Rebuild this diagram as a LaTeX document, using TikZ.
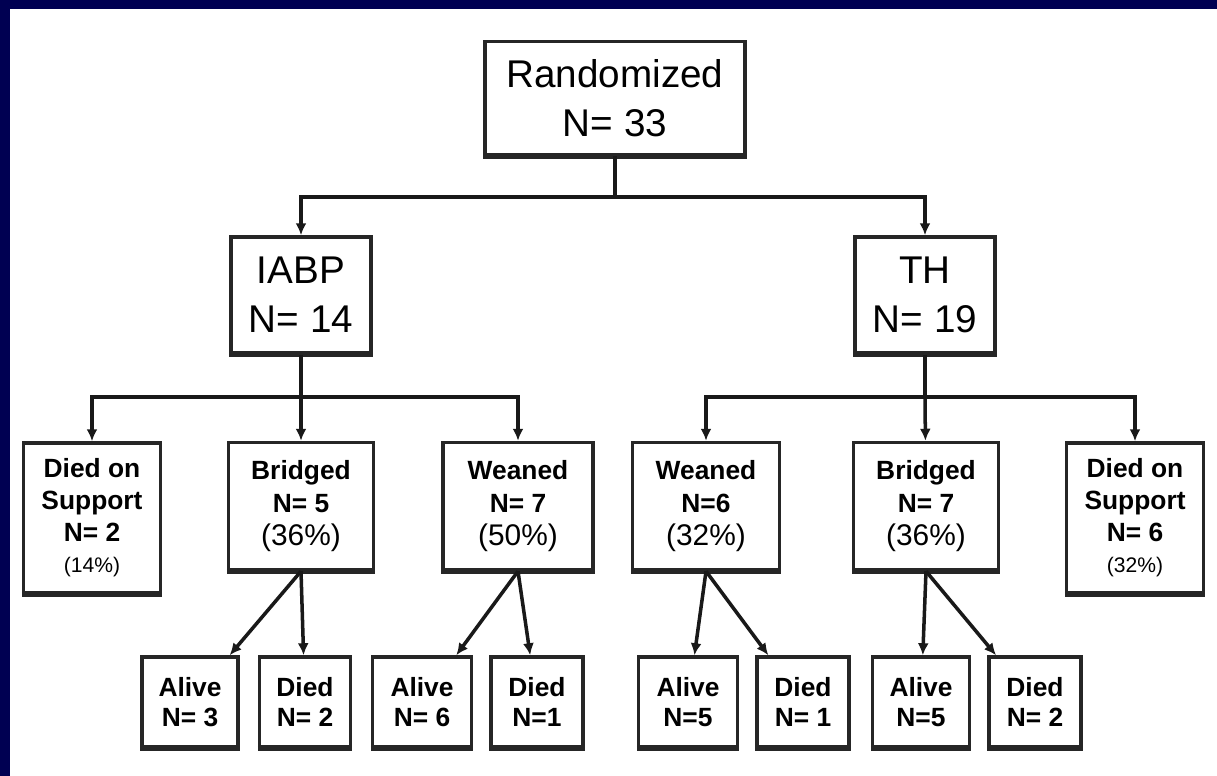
\documentclass[tikz,border=0pt]{standalone}
\usepackage{fontspec}
\setmainfont{Liberation Sans}
\usetikzlibrary{arrows.meta}
\definecolor{navyframe}{RGB}{0,0,82}
\tikzset{
  box/.style={draw=black!85, line width=2pt, fill=white, align=center, inner sep=0pt},
  topbox/.style={box, font=\fontsize{22}{28}\selectfont},
  armbox/.style={box, minimum width=2.9cm, minimum height=2.54cm, font=\fontsize{15}{19}\selectfont\bfseries},
  dosbox/.style={box, minimum width=2.74cm, minimum height=3cm, font=\fontsize{15}{18}\selectfont\bfseries},
  leafbox/.style={box, minimum height=1.8cm, font=\fontsize{15}{17}\selectfont\bfseries},
  conn/.style={line width=2pt, draw=black!90},
  arr/.style={conn, -{Latex[length=2.4mm,width=2.2mm]}},
}
\newcommand{\pct}[1]{{\fontsize{17}{20}\selectfont\mdseries (#1\%)}}
\newcommand{\smallpct}[1]{{\fontsize{12}{14}\selectfont\mdseries (#1\%)}}
\begin{document}
\begin{tikzpicture}[x=0.02cm, y=-0.02cm]
  \useasboundingbox (0,0) rectangle (1217,776);
  %% dark frame on top and left side
  \fill[navyframe] (0,0) rectangle (1217,9);
  \fill[navyframe] (0,0) rectangle (10,776);

  %% top level
  \node[topbox, minimum width=5.2cm, minimum height=2.26cm] (rand) at (615,98) {Randomized\\N= 33};
  \node[topbox, minimum width=2.8cm, minimum height=2.32cm] (iabp) at (301,295) {IABP\\N= 14};
  \node[topbox, minimum width=2.8cm, minimum height=2.32cm] (th) at (925,295) {TH\\N= 19};

  %% outcome per arm
  \node[dosbox] (dosL) at (92,518) {Died on\\Support\\N= 2\\\smallpct{14}};
  \node[armbox] (brL) at (301,506) {Bridged\\N= 5\\\pct{36}};
  \node[armbox, minimum width=3cm] (weL) at (518,506) {Weaned\\N= 7\\\pct{50}};
  \node[armbox, minimum width=2.94cm] (weR) at (706,506) {Weaned\\N=6\\\pct{32}};
  \node[armbox] (brR) at (926,506) {Bridged\\N= 7\\\pct{36}};
  \node[dosbox] (dosR) at (1135,518) {Died on\\Support\\N= 6\\\smallpct{32}};

  %% final status
  \node[leafbox, minimum width=1.92cm] (alL1) at (190,702) {Alive\\N= 3};
  \node[leafbox, minimum width=1.82cm] (diL1) at (305,702) {Died\\N= 2};
  \node[leafbox, minimum width=1.98cm] (alL2) at (422,702) {Alive\\N= 6};
  \node[leafbox, minimum width=1.84cm] (diL2) at (537,702) {Died\\N=1};
  \node[leafbox, minimum width=1.98cm] (alR1) at (688,702) {Alive\\N=5};
  \node[leafbox, minimum width=1.84cm] (diR1) at (803,702) {Died\\N= 1};
  \node[leafbox, minimum width=1.94cm] (alR2) at (921,702) {Alive\\N=5};
  \node[leafbox, minimum width=1.84cm] (diR2) at (1035,702) {Died\\N= 2};

  %% heavier bottom edges
  \foreach \n in {rand,iabp,th,dosL,brL,weL,weR,brR,dosR,alL1,diL1,alL2,diL2,alR1,diR1,alR2,diR2}
    \draw[line width=3pt, draw=black!85] (\n.south west) -- (\n.south east);

  \coordinate (split0) at (615,197);
  \coordinate (splitL) at (301,397);
  \coordinate (splitR) at (925,397);

  \draw[conn] (rand) -- (split0);
  \draw[arr] (split0) -| (iabp);
  \draw[arr] (split0) -| (th);

  \draw[conn] (iabp) -- (splitL);
  \draw[arr] (splitL) -| (dosL);
  \draw[arr] (splitL) -- (brL);
  \draw[arr] (splitL) -| (weL);

  \draw[conn] (th) -- (splitR);
  \draw[arr] (splitR) -| (weR);
  \draw[arr] (splitR) -- (brR);
  \draw[arr] (splitR) -| (dosR);

  \draw[arr] (brL.south) -- (alL1);
  \draw[arr] (brL.south) -- (diL1);
  \draw[arr] (weL.south) -- (alL2);
  \draw[arr] (weL.south) -- (diL2);
  \draw[arr] (weR.south) -- (alR1);
  \draw[arr] (weR.south) -- (diR1);
  \draw[arr] (brR.south) -- (alR2);
  \draw[arr] (brR.south) -- (diR2);
\end{tikzpicture}
\end{document}
